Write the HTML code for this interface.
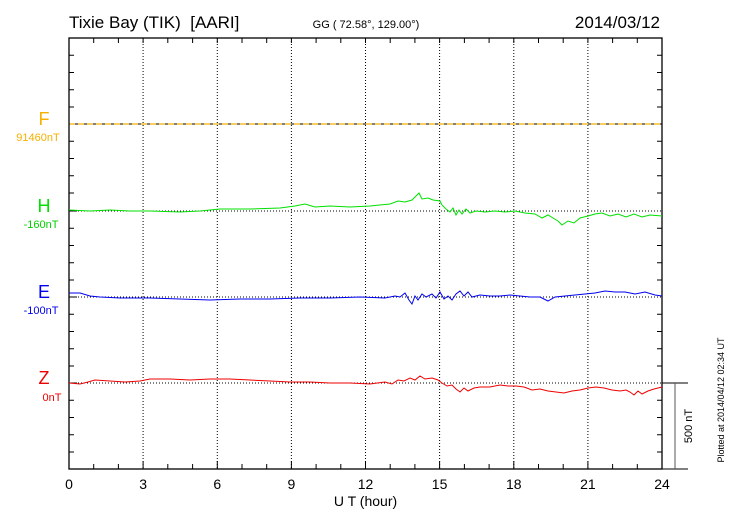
<!DOCTYPE html>
<html><head><style>
html,body{margin:0;padding:0;background:#fff;}
svg text{font-family:"Liberation Sans",sans-serif;}
</style></head><body>
<svg width="730" height="520" xmlns="http://www.w3.org/2000/svg">
<rect width="730" height="520" fill="#fff"/>
<text x="69" y="28" font-size="17">Tixie Bay (TIK)&#160; [AARI]</text>
<text x="366" y="28" font-size="11" text-anchor="middle">GG ( 72.58°, 129.00°)</text>
<text x="660" y="28" font-size="17" text-anchor="end">2014/03/12</text>
<g stroke="#000" stroke-width="1" stroke-dasharray="1,2">
<line x1="143.1" y1="38" x2="143.1" y2="469"/>
<line x1="217.3" y1="38" x2="217.3" y2="469"/>
<line x1="291.4" y1="38" x2="291.4" y2="469"/>
<line x1="365.5" y1="38" x2="365.5" y2="469"/>
<line x1="439.6" y1="38" x2="439.6" y2="469"/>
<line x1="513.8" y1="38" x2="513.8" y2="469"/>
<line x1="587.9" y1="38" x2="587.9" y2="469"/>
<line x1="69" y1="211" x2="662" y2="211"/>
<line x1="69" y1="297" x2="662" y2="297"/>
<line x1="69" y1="383" x2="662" y2="383"/>
</g>
<line x1="69" y1="124" x2="662" y2="124" stroke="#000" stroke-width="1"/>
<line x1="69" y1="124" x2="662" y2="124" stroke="#f5b000" stroke-width="1.3" stroke-dasharray="6,3"/>
<rect x="69" y="38" width="593" height="431" fill="none" stroke="#000" stroke-width="1.3"/>
<g stroke="#000" stroke-width="1">
<path d="M69,55.3h5M69,72.5h5M69,89.8h5M69,107h5M69,141.2h5M69,158.5h5M69,175.7h5M69,193h5M69,228.2h5M69,245.5h5M69,262.7h5M69,280h5M69,314.2h5M69,331.5h5M69,348.7h5M69,366h5M69,400.2h5M69,417.5h5M69,434.7h5M69,452h5M69,211h8M69,297h8M69,383h8"/>
<path d="M657,55.3h5M657,72.5h5M657,89.8h5M657,107h5M657,141.2h5M657,158.5h5M657,175.7h5M657,193h5M657,228.2h5M657,245.5h5M657,262.7h5M657,280h5M657,314.2h5M657,331.5h5M657,348.7h5M657,366h5M657,400.2h5M657,417.5h5M657,434.7h5M657,452h5"/>
<path d="M93.7,38v5M118.4,38v5M143.1,38v5M167.8,38v5M192.6,38v5M217.3,38v5M242,38v5M266.7,38v5M291.4,38v5M316.1,38v5M340.8,38v5M365.5,38v5M390.2,38v5M414.9,38v5M439.6,38v5M464.4,38v5M489.1,38v5M513.8,38v5M538.5,38v5M563.2,38v5M587.9,38v5M612.6,38v5M637.3,38v5"/>
<path d="M93.7,469v-5M118.4,469v-5M143.1,469v-8M167.8,469v-5M192.6,469v-5M217.3,469v-8M242,469v-5M266.7,469v-5M291.4,469v-8M316.1,469v-5M340.8,469v-5M365.5,469v-8M390.2,469v-5M414.9,469v-5M439.6,469v-8M464.4,469v-5M489.1,469v-5M513.8,469v-8M538.5,469v-5M563.2,469v-5M587.9,469v-8M612.6,469v-5M637.3,469v-5"/>
</g>
<g stroke="#000" stroke-width="1">
<line x1="662" y1="383" x2="688" y2="383"/>
<line x1="662" y1="469" x2="688" y2="469"/>
<line x1="675" y1="383" x2="675" y2="469" stroke="#555"/>
</g>
<text x="692" y="426" font-size="11" transform="rotate(-90 692 426)" text-anchor="middle">500 nT</text>
<text x="724" y="400" font-size="9" transform="rotate(-90 724 400)" text-anchor="middle">Plotted at 2014/04/12 02:34  UT</text>
<g font-size="14" text-anchor="middle">
<text x="69" y="489">0</text><text x="143.1" y="489">3</text><text x="217.3" y="489">6</text><text x="291.4" y="489">9</text><text x="365.5" y="489">12</text><text x="439.6" y="489">15</text><text x="513.8" y="489">18</text><text x="587.9" y="489">21</text><text x="662" y="489">24</text>
<text x="365.5" y="506">U T (hour)</text>
</g>
<text x="44" y="125" font-size="18" fill="#f5b000" text-anchor="middle">F</text>
<text x="38" y="141" font-size="11" fill="#f5b000" text-anchor="middle">91460nT</text>
<text x="44" y="212" font-size="18" fill="#00e000" text-anchor="middle">H</text>
<text x="41" y="228" font-size="11" fill="#00d000" text-anchor="middle">-160nT</text>
<text x="44" y="298" font-size="18" fill="#0000ee" text-anchor="middle">E</text>
<text x="41" y="314" font-size="11" fill="#0000ee" text-anchor="middle">-100nT</text>
<text x="44" y="384" font-size="18" fill="#ee0000" text-anchor="middle">Z</text>
<text x="52" y="401" font-size="11" fill="#ee0000" text-anchor="middle">0nT</text>
<polyline fill="none" stroke="#00e000" stroke-width="1" points="69,210 90,211 110,210 130,211 150,211 180,212 200,211 220,209 250,209 280,208 295,206 305,204 315,207 330,206 350,207 370,206 390,204 398,201 405,202 412,200 416,196 419,193 422,199 428,198 433,200 440,201 442,205 446,209 450,212 453,208 456,215 459,210 462,214 466,209 470,213 476,211 485,212 495,211 505,212 515,211 525,213 535,214 542,218 548,215 553,218 558,221 562,225 568,221 574,223 580,218 588,216 595,214 602,213 610,216 618,214 626,217 634,214 642,217 650,215 662,216"/>
<polyline fill="none" stroke="#0000ee" stroke-width="1" points="69,293 80,293 90,296 100,297 120,298 150,298 180,299 210,300 240,299 270,299 300,298 330,298 360,297 385,298 395,296 400,297 405,293 409,300 412,304 415,296 418,300 422,294 426,297 432,294 436,298 440,292 444,299 448,296 452,300 456,294 460,291 464,296 468,292 472,297 480,295 490,296 500,296 510,295 520,296 530,297 540,297 548,301 555,297 565,296 575,295 585,294 595,293 605,291 615,292 625,292 635,294 645,292 655,295 662,296"/>
<polyline fill="none" stroke="#ee0000" stroke-width="1" points="69,383 80,384 88,382 95,380 110,381 125,382 140,381 150,379 170,379 190,380 210,379 230,379 250,380 270,381 290,382 310,382 330,383 350,383 370,384 385,382 392,384 398,380 404,381 410,378 415,380 420,376 425,379 432,378 438,380 442,383 447,386 452,385 456,389 460,392 464,388 468,391 474,388 480,387 490,387 500,385 508,386 516,386 524,387 532,390 540,389 548,391 556,392 564,393 572,391 580,390 588,388 596,387 604,388 612,390 620,391 626,390 630,392 634,395 638,391 642,394 648,391 654,389 662,387"/>
</svg>
</body></html>
